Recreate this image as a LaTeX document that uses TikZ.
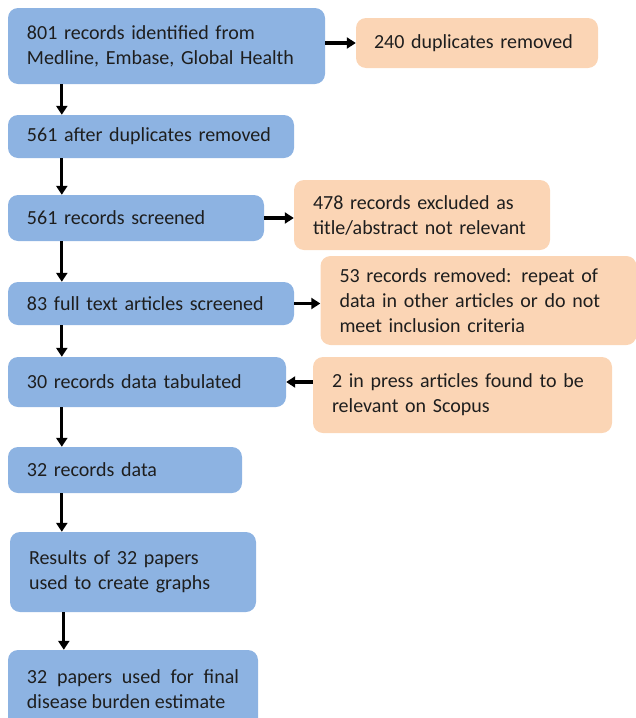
\documentclass[tikz,border=0pt]{standalone}
\usepackage{fontspec}
\setmainfont{Carlito}
\usetikzlibrary{arrows.meta}
\definecolor{bluebox}{HTML}{8DB3E2}
\definecolor{orangebox}{HTML}{FBD5B5}
\definecolor{txt}{HTML}{1E1E1E}
\tikzset{
  x=1pt,y=1pt,
  basebox/.style={rounded corners=10pt, inner xsep=19pt, inner ysep=0pt, align=left,
    text=txt, font=\fontsize{20}{25}\selectfont, anchor=center},
  bluenode/.style={basebox, fill=bluebox},
  orangenode/.style={basebox, fill=orangebox},
  flow/.style={line width=3.2pt, -{Triangle[length=9pt,width=11pt]}, black}
}
\begin{document}
\begin{tikzpicture}
\useasboundingbox (0,0) rectangle (636,-718);
% blue chain
\node[bluenode, minimum width=317, minimum height=76, text width=279] (b1) at (166.5,-46) {801 records identified from\\Medline, Embase, Global Health};
\node[bluenode, minimum width=286, minimum height=43, text width=248] (b2) at (151,-136.5) {561 after duplicates removed};
\node[bluenode, minimum width=256, minimum height=46, text width=218] (b3) at (136,-218) {561 records screened};
\node[bluenode, minimum width=286, minimum height=43, text width=248] (b4) at (151,-303.5) {83 full text articles screened};
\node[bluenode, minimum width=278, minimum height=50, text width=240] (b5) at (147,-382) {30 records data tabulated};
\node[bluenode, minimum width=234, minimum height=46, text width=196] (b6) at (125,-470) {32 records data};
\node[bluenode, minimum width=246, minimum height=80, text width=208] (b7) at (133,-572) {Results of 32 papers\\used to create graphs};
\node[bluenode, minimum width=250, minimum height=78, text width=212, align=justify] (b8) at (133,-689) {32 papers used for final disease burden estimate};
% orange side boxes
\node[orangenode, minimum width=242, minimum height=50, text width=206, inner xsep=18pt] (o1) at (477,-43) {240 duplicates removed};
\node[orangenode, minimum width=256, minimum height=70, text width=218] (o2) at (422,-215) {478 records excluded as\\title/abstract not relevant};
\node[orangenode, minimum width=316, minimum height=89, text width=278] (o3) at (478.5,-300.5) {53 records removed: repeat of\\data in other articles or do not\\meet inclusion criteria};
\node[orangenode, minimum width=299, minimum height=76, text width=261] (o4) at (462.5,-395) {2 in press articles found to be\\relevant on Scopus};
% vertical connectors
\foreach \a/\b in {b1/b2,b2/b3,b3/b4,b4/b5,b5/b6,b6/b7,b7/b8}{
  \draw[flow] ([xshift=54pt]\a.south west) -- ([xshift=54pt]\a.south west |- \b.north);
}
% horizontal connectors
\draw[flow] (b1.east |- o1.west) -- (o1.west);
\draw[flow] (b3.east) -- (b3.east -| o2.west);
\draw[flow] (b4.east) -- (b4.east -| o3.west);
\draw[flow] (o4.west |- b5.east) -- (b5.east);
\end{tikzpicture}
\end{document}
